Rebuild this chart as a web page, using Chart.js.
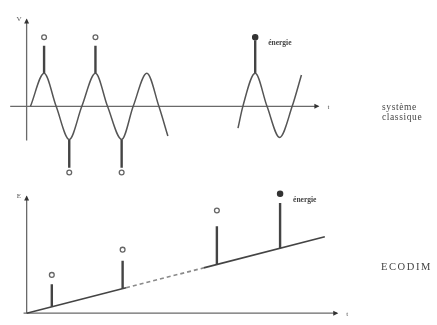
<!DOCTYPE html>
<html lang="fr">
<head>
  <meta charset="UTF-8">
  <title>Système classique / ECODIM</title>
  <script src="https://cdn.jsdelivr.net/npm/chart.js"></script>
  <style>
    body {
      margin: 0;
      background: #ffffff;
      font-family: "Liberation Serif", "DejaVu Serif", serif;
    }
    .page {
      position: relative;
      width: 437px;
      height: 325px;
      overflow: hidden;
      filter: blur(0.7px);
    }
    canvas { position: absolute; left: 0; }
    #top { top: 0; }
    #bottom { top: 165px; }
    .side {
      position: absolute;
      color: #444;
      font-size: 9.5px;
      line-height: 10px;
      letter-spacing: 0.6px;
      white-space: nowrap;
    }
    #sideTop { left: 382px; top: 102px; }
    #sideBottom { left: 381px; top: 262px; font-size: 10.5px; letter-spacing: 1.6px; }
  </style>
</head>
<body>
  <div class="page">
    <canvas id="bottom" width="360" height="160"></canvas>
    <canvas id="top" width="345" height="190"></canvas>
    <div class="side" id="sideTop">système<br>classique</div>
    <div class="side" id="sideBottom">ECODIM</div>
  </div>

  <script>
    // top panel: oscillating potential V(t)
    const waveT1 = [0.15, 0.68, 1.15, 1.66, 2.15, 2.68, 3.15, 3.7, 4.15, 4.68, 5.15, 5.5];
    const waveV1 = [0, 1, 0, -1, 0, 1, 0, -1, 0, 1, 0, -0.9];
    const waveT2 = [8.23, 8.42, 8.9, 9.36, 9.85, 10.34, 10.7];
    const waveV2 = [-0.66, 0, 1, 0, -0.94, 0, 0.95];

    const topSpikeT = [0.68, 1.66, 2.68, 3.7, 8.9];
    const topSpikeFrom = [1, -1, 1, -1, 1];
    const topSpikeTo = [1.83, -1.86, 1.83, -1.86, 2.0];
    const topMarkV = [2.09, -2.0, 2.09, -2.0, 2.09];
    const topMarkFilled = [false, false, false, false, true];

    // bottom panel: energy E(t)
    const lineT = [0, 3.2, 5.7, 9.6];
    const lineE = [0, 2.18, 3.88, 6.54];

    const botSpikeT = [0.81, 3.09, 6.125, 8.16];
    const botSpikeFrom = [0.55, 2.1, 4.17, 5.56];
    const botSpikeTo = [2.48, 4.48, 7.44, 9.44];
    const botMarkE = [3.28, 5.44, 8.8, 10.24];
    const botMarkFilled = [false, false, false, true];

    const energyLabel = 'énergie';

    const INK = '#444444';
    const WAVE = '#555555';
    const AXIS = '#6a6a6a';

    function pts(xs, ys) {
      return xs.map((x, i) => ({ x: x, y: ys[i] }));
    }

    function spikeSets(ts, from, to) {
      return ts.map((t, i) => ({
        type: 'line',
        data: [{ x: t, y: from[i] }, { x: t, y: to[i] }],
        borderColor: INK,
        borderWidth: 2.4,
        pointRadius: 0
      }));
    }

    function markerSet(ts, vals, filled) {
      return {
        type: 'scatter',
        data: pts(ts, vals),
        pointRadius: filled.map(f => f ? 2.6 : 2.4),
        pointBackgroundColor: filled.map(f => f ? '#333' : '#fff'),
        pointBorderColor: filled.map(f => f ? '#333' : '#666'),
        pointBorderWidth: 1.3
      };
    }

    function arrowHead(ctx, x, y, dir) {
      ctx.beginPath();
      if (dir === 'right') {
        ctx.moveTo(x, y);
        ctx.lineTo(x - 5, y - 2.5);
        ctx.lineTo(x - 5, y + 2.5);
      } else {
        ctx.moveTo(x, y);
        ctx.lineTo(x - 2.5, y + 5);
        ctx.lineTo(x + 2.5, y + 5);
      }
      ctx.closePath();
      ctx.fill();
    }

    // axes, arrows and letters, placed through the scales
    function axesPlugin(cfg) {
      return {
        id: 'axes',
        beforeDatasetsDraw(chart) {
          const ctx = chart.ctx;
          const sx = chart.scales.x, sy = chart.scales.y;
          const x0 = sx.getPixelForValue(0), y0 = sy.getPixelForValue(0);
          const xa = sx.getPixelForValue(cfg.xFrom), xb = sx.getPixelForValue(cfg.xTo);
          const ya = sy.getPixelForValue(cfg.yFrom), yb = sy.getPixelForValue(cfg.yTo);
          ctx.save();
          ctx.strokeStyle = AXIS;
          ctx.fillStyle = '#333';
          ctx.lineWidth = 1.3;
          ctx.beginPath();
          ctx.moveTo(xa, y0); ctx.lineTo(xb, y0);
          ctx.moveTo(x0, ya); ctx.lineTo(x0, yb);
          ctx.stroke();
          arrowHead(ctx, xb + 1, y0, 'right');
          arrowHead(ctx, x0, yb - 1, 'up');
          ctx.fillStyle = '#555';
          ctx.font = '7px "Liberation Serif", serif';
          ctx.textBaseline = 'middle';
          ctx.fillText(cfg.yName, x0 - 10, yb);
          ctx.fillText('t', xb + 9, y0 + 1);
          // label beside the filled marker
          const mx = sx.getPixelForValue(cfg.markT), my = sy.getPixelForValue(cfg.markV);
          ctx.fillStyle = '#444';
          ctx.font = 'bold 7.5px "Liberation Serif", serif';
          ctx.fillText(energyLabel, mx + 13, my + 6);
          ctx.restore();
        }
      };
    }

    function baseOptions(xMin, xMax, yMin, yMax) {
      return {
        responsive: false,
        animation: false,
        layout: { padding: 0 },
        plugins: { legend: { display: false }, tooltip: { enabled: false } },
        scales: {
          x: { type: 'linear', min: xMin, max: xMax, display: false },
          y: { type: 'linear', min: yMin, max: yMax, display: false }
        }
      };
    }

    // top chart
    new Chart(document.getElementById('top'), {
      type: 'line',
      data: {
        datasets: [
          {
            data: pts(waveT1, waveV1),
            borderColor: WAVE, borderWidth: 1.5, pointRadius: 0,
            cubicInterpolationMode: 'monotone'
          },
          {
            data: pts(waveT2, waveV2),
            borderColor: WAVE, borderWidth: 1.5, pointRadius: 0,
            cubicInterpolationMode: 'monotone'
          },
          ...spikeSets(topSpikeT, topSpikeFrom, topSpikeTo),
          markerSet(topSpikeT, topMarkV, topMarkFilled)
        ]
      },
      options: baseOptions(-0.83, 12.19, -2.371, 3.057),
      plugins: [axesPlugin({
        xFrom: -0.64, xTo: 11.36, yFrom: -1.03, yTo: 2.63,
        yName: 'V', markT: 8.9, markV: 2.09
      })]
    });

    // bottom chart
    new Chart(document.getElementById('bottom'), {
      type: 'line',
      data: {
        datasets: [
          {
            data: pts(lineT, lineE),
            borderColor: INK, borderWidth: 1.6, pointRadius: 0,
            segment: {
              borderDash: c => c.p0DataIndex === 1 ? [4, 3] : undefined,
              borderColor: c => c.p0DataIndex === 1 ? '#8a8a8a' : undefined
            }
          },
          ...spikeSets(botSpikeT, botSpikeFrom, botSpikeTo),
          markerSet(botSpikeT, botMarkE, botMarkFilled)
        ]
      },
      options: baseOptions(-0.6875, 10.5625, -0.56, 12.24),
      plugins: [axesPlugin({
        xFrom: -0.1, xTo: 10, yFrom: -0.05, yTo: 10,
        yName: 'E', markT: 8.16, markV: 10.24
      })]
    });
  </script>
</body>
</html>
